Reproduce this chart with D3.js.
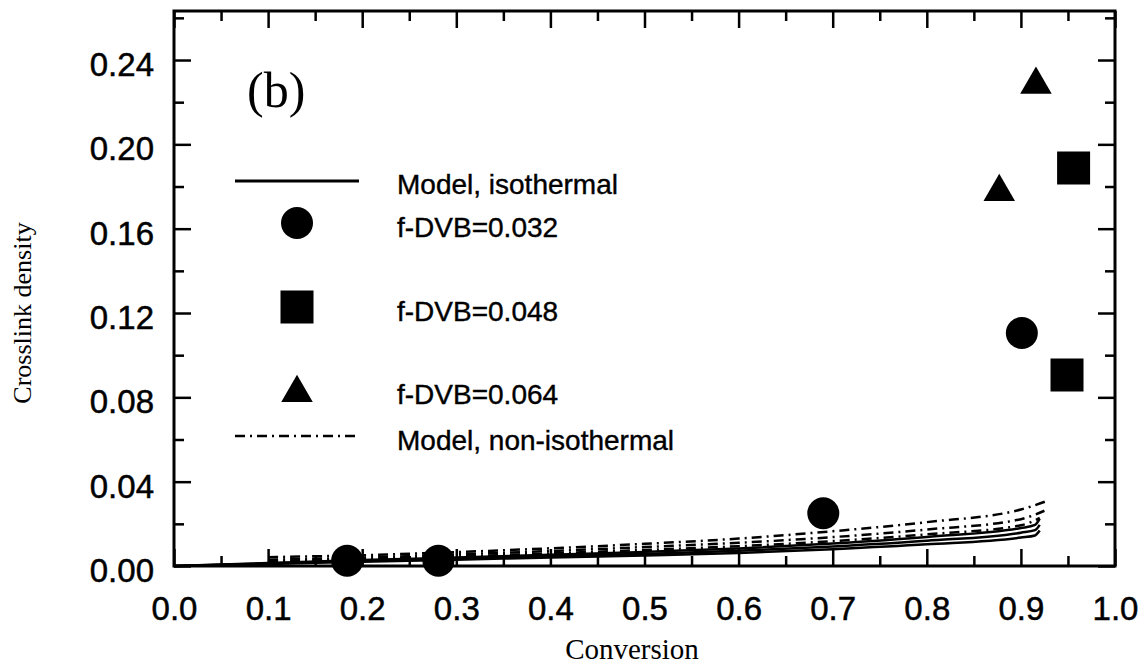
<!DOCTYPE html>
<html>
<head>
<meta charset="utf-8">
<script src="https://cdn.jsdelivr.net/npm/d3@7"></script>
<style>
  html, body { margin: 0; padding: 0; background: #fff; }
  svg { display: block; }
  .tick-label { font-family: "Liberation Sans", Arial, sans-serif; font-size: 33px; fill: #000; stroke: #000; stroke-width: 0.5px; }
  .legend-text { font-family: "Liberation Sans", Arial, sans-serif; font-size: 28px; fill: #000; stroke: #000; stroke-width: 0.4px; }
  .title { font-family: "Liberation Serif", "Times New Roman", serif; fill: #000; }
</style>
</head>
<body>
<svg id="chart" width="1146" height="664"></svg>
<script>
// Axis ticks
const xTicks = [0.0, 0.1, 0.2, 0.3, 0.4, 0.5, 0.6, 0.7, 0.8, 0.9, 1.0];
const xMinorTicks = [0.05, 0.15, 0.25, 0.35, 0.45, 0.55, 0.65, 0.75, 0.85, 0.95];
const yTicks = [0.00, 0.04, 0.08, 0.12, 0.16, 0.20, 0.24];
const yMinorTicks = [0.02, 0.06, 0.10, 0.14, 0.18, 0.22, 0.26];

// Measured crosslink density by DVB fraction
const dvb032 = [[0.184, 0.0025], [0.281, 0.0025], [0.690, 0.025], [0.901, 0.1105]];
const dvb048 = [[0.949, 0.0906], [0.956, 0.1888]];
const dvb064 = [[0.877, 0.1774], [0.916, 0.2283]];

// Model curves (conversion, crosslink density)
const isoLow  = [[0.0, 0.0], [0.1, 0.001], [0.2, 0.002], [0.3, 0.003], [0.4, 0.004], [0.5, 0.005], [0.6, 0.0062], [0.7, 0.0080], [0.8, 0.0103], [0.9, 0.0135], [0.915, 0.0145], [0.92, 0.0168]];
const isoMid  = [[0.0, 0.0], [0.1, 0.0012], [0.2, 0.0024], [0.3, 0.0035], [0.4, 0.0046], [0.5, 0.0058], [0.6, 0.0072], [0.7, 0.0093], [0.8, 0.0120], [0.9, 0.0158], [0.915, 0.0170], [0.92, 0.0195]];
const isoHigh = [[0.0, 0.0], [0.1, 0.0014], [0.2, 0.0028], [0.3, 0.0040], [0.4, 0.0053], [0.5, 0.0067], [0.6, 0.0083], [0.7, 0.0107], [0.8, 0.0138], [0.9, 0.0180], [0.915, 0.0195], [0.92, 0.0225]];
const nonIsoLow  = [[0.1, 0.0022], [0.2, 0.0032], [0.3, 0.0045], [0.4, 0.0060], [0.5, 0.0076], [0.6, 0.0094], [0.7, 0.0118], [0.8, 0.0150], [0.9, 0.0193], [0.92, 0.0228]];
const nonIsoMid  = [[0.1, 0.0030], [0.2, 0.0040], [0.3, 0.0055], [0.4, 0.0071], [0.5, 0.0090], [0.6, 0.0110], [0.7, 0.0137], [0.8, 0.0173], [0.9, 0.0222], [0.925, 0.0262]];
const nonIsoHigh = [[0.1, 0.0042], [0.2, 0.0051], [0.3, 0.0066], [0.4, 0.0084], [0.5, 0.0105], [0.6, 0.0130], [0.7, 0.0165], [0.8, 0.0208], [0.9, 0.0268], [0.93, 0.0312]];

const legendLabels = ["Model, isothermal", "f-DVB=0.032", "f-DVB=0.048", "f-DVB=0.064", "Model, non-isothermal"];

const svg = d3.select("#chart");
const plotLeft = 174, plotRight = 1115, plotTop = 11, plotBottom = 566;

const x = d3.scaleLinear().domain([0, 1]).range([plotLeft, plotRight]);
const y = d3.scaleLinear().domain([0, 0.26325]).range([plotBottom, plotTop]);

const majorLen = 17, minorLen = 10;

function styleAxis(g) {
  g.select(".domain").remove();
  g.selectAll(".tick line").attr("stroke", "#000").attr("stroke-width", 2.5);
}

// bottom axis with labels
const gB = svg.append("g").attr("transform", `translate(0,${plotBottom})`)
  .call(d3.axisBottom(x).tickValues(xTicks).tickSize(-majorLen).tickPadding(0).tickFormat(d3.format(".1f")));
styleAxis(gB);
gB.attr("font-size", null).attr("font-family", null);
gB.selectAll(".tick text").attr("class", "tick-label").attr("y", 54).attr("dy", null);
svg.append("g").attr("transform", `translate(0,${plotBottom})`)
  .call(d3.axisBottom(x).tickValues(xMinorTicks).tickSize(-minorLen).tickFormat(""))
  .call(styleAxis);

// top axis
svg.append("g").attr("transform", `translate(0,${plotTop})`)
  .call(d3.axisTop(x).tickValues(xTicks).tickSize(-majorLen).tickFormat(""))
  .call(styleAxis);
svg.append("g").attr("transform", `translate(0,${plotTop})`)
  .call(d3.axisTop(x).tickValues(xMinorTicks).tickSize(-minorLen).tickFormat(""))
  .call(styleAxis);

// left axis with labels
const gL = svg.append("g").attr("transform", `translate(${plotLeft},0)`)
  .call(d3.axisLeft(y).tickValues(yTicks).tickSize(-majorLen).tickFormat(d3.format(".2f")));
styleAxis(gL);
gL.attr("font-size", null).attr("font-family", null);
gL.selectAll(".tick text").attr("class", "tick-label").attr("x", -20).attr("dy", "0.47em")
  .attr("text-anchor", "end");
svg.append("g").attr("transform", `translate(${plotLeft},0)`)
  .call(d3.axisLeft(y).tickValues(yMinorTicks).tickSize(-minorLen).tickFormat(""))
  .call(styleAxis);

// right axis
svg.append("g").attr("transform", `translate(${plotRight},0)`)
  .call(d3.axisRight(y).tickValues(yTicks).tickSize(-majorLen).tickFormat(""))
  .call(styleAxis);
svg.append("g").attr("transform", `translate(${plotRight},0)`)
  .call(d3.axisRight(y).tickValues(yMinorTicks).tickSize(-minorLen).tickFormat(""))
  .call(styleAxis);

// frame
svg.append("rect")
  .attr("x", plotLeft).attr("y", plotTop)
  .attr("width", plotRight - plotLeft).attr("height", plotBottom - plotTop)
  .attr("fill", "none").attr("stroke", "#000").attr("stroke-width", 3);

// model curves
const line = d3.line().x(d => x(d[0])).y(d => y(d[1])).curve(d3.curveMonotoneX);
const dashDot = "10,5,2,5";
[isoLow, isoMid, isoHigh].forEach(c => {
  svg.append("path").datum(c).attr("d", line)
    .attr("fill", "none").attr("stroke", "#000").attr("stroke-width", 2.5);
});
[nonIsoLow, nonIsoMid, nonIsoHigh].forEach(c => {
  svg.append("path").datum(c).attr("d", line)
    .attr("fill", "none").attr("stroke", "#000").attr("stroke-width", 2.5)
    .attr("stroke-dasharray", dashDot);
});

// measured points
const circleSym = d3.symbol().type(d3.symbolCircle).size(Math.PI * 16 * 16);
const squareSym = d3.symbol().type(d3.symbolSquare).size(33 * 33);
const triSym = d3.symbol().type(d3.symbolTriangle).size(430);

svg.selectAll(".p032").data(dvb032).enter().append("path")
  .attr("transform", d => `translate(${x(d[0])},${y(d[1])})`).attr("d", circleSym).attr("fill", "#000");
svg.selectAll(".p048").data(dvb048).enter().append("path")
  .attr("transform", d => `translate(${x(d[0])},${y(d[1])})`).attr("d", squareSym).attr("fill", "#000");
svg.selectAll(".p064").data(dvb064).enter().append("path")
  .attr("transform", d => `translate(${x(d[0])},${y(d[1])})`).attr("d", triSym).attr("fill", "#000");

// legend
const lg = svg.append("g");
const symX = 297, lineX0 = 235, lineX1 = 359, textX = 397;
lg.append("line").attr("x1", lineX0).attr("x2", lineX1).attr("y1", 181).attr("y2", 181)
  .attr("stroke", "#000").attr("stroke-width", 2.8);
lg.append("path").attr("transform", `translate(${symX},223)`).attr("d", circleSym).attr("fill", "#000");
lg.append("path").attr("transform", `translate(${symX},307)`).attr("d", squareSym).attr("fill", "#000");
lg.append("path").attr("transform", `translate(${symX},393)`).attr("d", triSym).attr("fill", "#000");
lg.append("line").attr("x1", lineX0).attr("x2", lineX1).attr("y1", 436).attr("y2", 436)
  .attr("stroke", "#000").attr("stroke-width", 2.5).attr("stroke-dasharray", dashDot);
const textY = [194, 237, 321, 404, 450];
legendLabels.forEach((t, i) => {
  lg.append("text").attr("class", "legend-text").attr("x", textX).attr("y", textY[i]).text(t);
});

// panel label
svg.append("text").attr("class", "title").attr("x", 247).attr("y", 107)
  .style("font-size", "50px").text("(b)");

// axis titles
svg.append("text").attr("class", "title").attr("x", 632).attr("y", 659)
  .attr("text-anchor", "middle").style("font-size", "29px").text("Conversion");
svg.append("text").attr("class", "title")
  .attr("transform", "translate(31,313) rotate(-90)")
  .attr("text-anchor", "middle").style("font-size", "26px").text("Crosslink density");
</script>
</body>
</html>
